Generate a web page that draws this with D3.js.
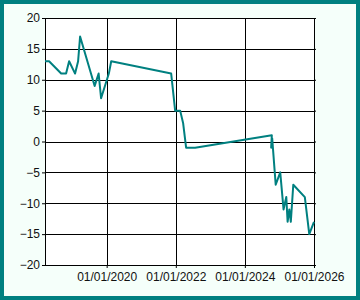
<!DOCTYPE html>
<html>
<head>
<meta charset="utf-8">
<script src="https://cdn.jsdelivr.net/npm/d3@7"></script>
<style>
  html, body { margin: 0; padding: 0; background: #fff; }
  #chart { width: 360px; height: 300px; }
  text { font-family: "Liberation Sans", Arial, sans-serif; }
</style>
</head>
<body>
<div id="chart"></div>
<script>
// data
const dates = ["2018-03-20", "2018-05-02", "2018-09-07", "2018-10-29", "2018-11-30", "2019-02-01",
    "2019-03-05", "2019-03-26", "2019-08-27", "2019-10-08", "2019-11-03", "2020-01-24",
    "2020-02-18", "2021-11-13", "2021-12-25", "2022-02-16", "2022-03-19", "2022-04-20",
    "2022-07-24", "2024-10-12", "2024-10-05", "2024-10-16", "2024-11-22", "2025-01-09",
    "2025-02-13", "2025-03-14", "2025-03-28", "2025-04-15", "2025-05-01", "2025-05-27",
    "2025-09-26", "2025-11-12", "2026-01-01"];
const values = [13, 13, 11, 11, 13, 11,
    13, 17, 9, 11, 7, 11,
    13, 11, 5, 5, 3, -1,
    -1, 1, -1, 0.5, -7, -5,
    -11, -9, -13, -11, -13, -7,
    -9, -15, -13];
const yTicks = [-20, -15, -10, -5, 0, 5, 10, 15, 20];
const xTicks = ["2020-01-01", "2022-01-01", "2024-01-01", "2026-01-01"];

const parse = d3.timeParse("%Y-%m-%d");
const data = dates.map((d, i) => ({date: parse(d), value: values[i]}));

const W = 360, H = 300;
const margin = {top: 18, right: 46, bottom: 35, left: 45};
const width = W - margin.left - margin.right,
    height = H - margin.top - margin.bottom;

const svg = d3.select("#chart")
    .append("svg")
    .attr("width", W)
    .attr("height", H);

// outer teal frame + mint background
svg.append("rect")
    .attr("x", 0).attr("y", 0)
    .attr("width", W).attr("height", H)
    .attr("fill", "#008080");
svg.append("rect")
    .attr("x", 4).attr("y", 4)
    .attr("width", W - 8).attr("height", H - 8)
    .attr("fill", "#f5fffa");

const g = svg.append("g")
    .attr("transform", `translate(${margin.left},${margin.top})`);

const x = d3.scaleTime()
    .domain(d3.extent(data, d => d.date))
    .range([0, width]);

const y = d3.scaleLinear()
    .domain([-20, 20])
    .range([height, 0]);

// plot area
g.append("rect")
    .attr("width", width)
    .attr("height", height)
    .attr("fill", "white");

// grid lines
g.append("g")
    .selectAll("line")
    .data(yTicks)
    .join("line")
    .attr("x1", 0)
    .attr("x2", width)
    .attr("y1", d => Math.round(y(d)) + 0.5)
    .attr("y2", d => Math.round(y(d)) + 0.5)
    .attr("stroke", "black");

g.append("g")
    .selectAll("line")
    .data(xTicks.map(parse))
    .join("line")
    .attr("x1", d => Math.round(x(d)) + 0.5)
    .attr("x2", d => Math.round(x(d)) + 0.5)
    .attr("y1", 0)
    .attr("y2", height)
    .attr("stroke", "black");

// axes
const yAxis = g.append("g")
    .call(d3.axisLeft(y).tickValues(yTicks).tickSize(3).tickPadding(2).tickFormat(d3.format("d")));
yAxis.select(".domain").attr("d", `M0.5,${height + 0.5}V0`);

const yAxisR = g.append("g")
    .attr("transform", `translate(${width},0)`)
    .call(d3.axisRight(y).tickValues(yTicks).tickSize(2).tickFormat(""));
yAxisR.select(".domain").remove();

const xAxis = g.append("g")
    .attr("transform", `translate(0,${height})`)
    .call(d3.axisBottom(x).tickValues(xTicks.map(parse)).tickSize(3).tickPadding(4)
        .tickFormat(d3.timeFormat("%d/%m/%Y")));
xAxis.select(".domain").attr("d", `M0,0.5H${width + 0.5}`);

svg.selectAll(".tick text")
    .attr("font-size", "12px")
    .attr("font-family", "'Liberation Sans', Arial, sans-serif")
    .attr("fill", "#111");
svg.selectAll(".tick line").attr("stroke", "black");
svg.selectAll(".domain").attr("stroke", "black");

// the series
const line = d3.line()
    .x(d => x(d.date))
    .y(d => y(d.value));

g.append("path")
    .datum(data)
    .attr("fill", "none")
    .attr("stroke", "#008080")
    .attr("stroke-width", 2)
    .attr("stroke-linejoin", "round")
    .attr("d", line);
</script>
</body>
</html>
